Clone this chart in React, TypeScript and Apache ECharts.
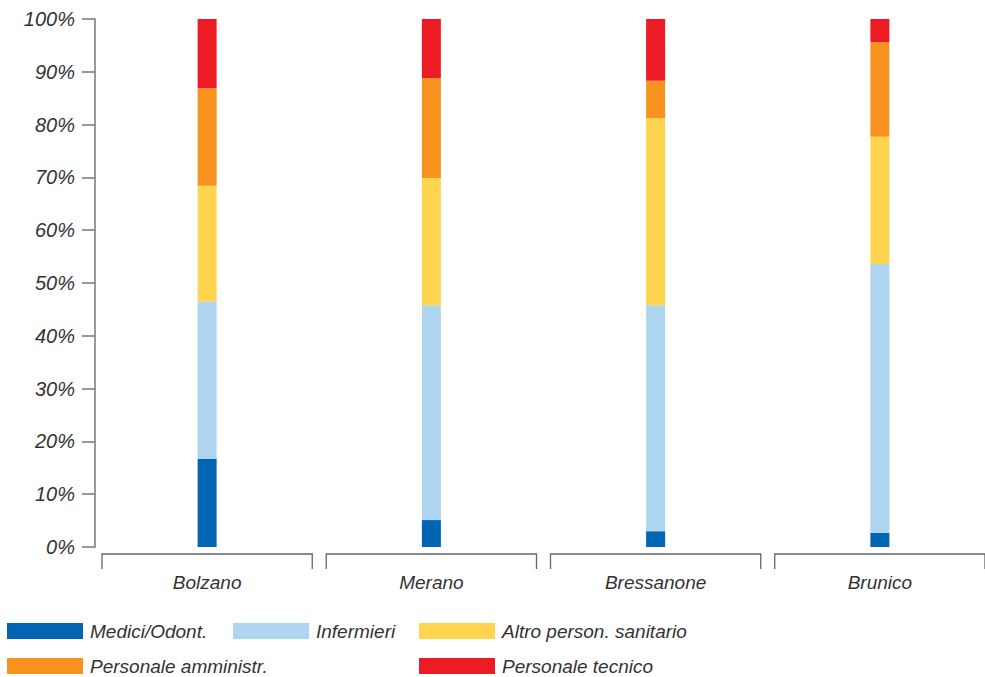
import React, { useEffect, useRef } from "react";
import * as echarts from "echarts";

const categories = ["Bolzano", "Merano", "Bressanone", "Brunico"];
const seriesNames = [
  "Medici/Odont.",
  "Infermieri",
  "Altro person. sanitario",
  "Personale amministr.",
  "Personale tecnico",
];
const medici = [16.7, 5.1, 3.0, 2.7];
const infermieri = [29.8, 40.7, 42.8, 50.9];
const altro = [21.9, 24.1, 35.4, 24.1];
const amministr = [18.5, 18.9, 7.1, 17.9];
const tecnico = [13.1, 11.2, 11.7, 4.4];
const yTicks = [0, 10, 20, 30, 40, 50, 60, 70, 80, 90, 100];

const colors = ["#0066b3", "#aed4f0", "#ffd54f", "#f7931e", "#ed1c24"];
const FONT = "'Liberation Sans Narrow', 'Liberation Sans', Arial, sans-serif";
const TEXT_COLOR = "#333333";
const AXIS_COLOR = "#777777";

export default function App() {
  const ref = useRef<HTMLDivElement>(null);

  useEffect(() => {
    if (!ref.current) return;
    const chart = echarts.init(ref.current, undefined, { renderer: "svg" });
    const values = [medici, infermieri, altro, amministr, tecnico];

    const barSeries = seriesNames.map((name, i) => ({
      name,
      type: "bar",
      stack: "total",
      barWidth: 19,
      data: values[i],
      itemStyle: { color: colors[i] },
      silent: true,
    }));

    const bracketSeries = {
      type: "custom",
      name: "brackets",
      silent: true,
      clip: false,
      data: categories.map((_, i) => [i, 0]),
      renderItem: (params: any, api: any) => {
        const c = api.coord([api.value(0), 0]);
        const w = api.size([1, 0])[0];
        const half = w / 2 - 7;
        const y = c[1] + 7;
        return {
          type: "polyline",
          shape: {
            points: [
              [c[0] - half, y + 15],
              [c[0] - half, y],
              [c[0] + half, y],
              [c[0] + half, y + 15],
            ],
          },
          style: { stroke: "#666666", fill: null, lineWidth: 1.3 },
        };
      },
    };

    const legendPos = [
      { left: 7, top: 620 },
      { left: 233, top: 620 },
      { left: 419, top: 620 },
      { left: 7, top: 655 },
      { left: 419, top: 655 },
    ];

    const legends = seriesNames.map((name, i) => ({
      data: [name],
      left: legendPos[i].left,
      top: legendPos[i].top,
      padding: 0,
      icon: "rect",
      itemWidth: 76,
      itemHeight: 16,
      selectedMode: false,
      textStyle: {
        fontFamily: FONT,
        fontStyle: "italic",
        fontSize: 19,
        color: TEXT_COLOR,
        lineHeight: 22,
        padding: [0, 0, 0, 2],
      },
    }));

    chart.setOption({
      animation: false,
      backgroundColor: "#ffffff",
      grid: { left: 95, top: 19, width: 897, height: 528, containLabel: false },
      legend: legends,
      xAxis: {
        type: "category",
        data: categories,
        axisLine: { show: false },
        axisTick: { show: false },
        axisLabel: {
          margin: 26,
          fontFamily: FONT,
          fontStyle: "italic",
          fontSize: 19,
          color: TEXT_COLOR,
        },
      },
      yAxis: {
        type: "value",
        min: yTicks[0],
        max: yTicks[yTicks.length - 1],
        interval: 10,
        axisLine: { show: true, lineStyle: { color: AXIS_COLOR, width: 1.5 } },
        axisTick: {
          show: true,
          length: 13,
          lineStyle: { color: AXIS_COLOR, width: 1.5 },
        },
        splitLine: { show: false },
        axisLabel: {
          margin: 20,
          fontFamily: FONT,
          fontStyle: "italic",
          fontSize: 20,
          color: TEXT_COLOR,
          formatter: (v: number) => `${v}%`,
        },
      },
      series: [...barSeries, bracketSeries],
    });

    return () => chart.dispose();
  }, []);

  return (
    <div
      style={{
        position: "fixed",
        left: 0,
        top: 0,
        width: 985,
        height: 677,
        overflow: "hidden",
        background: "#ffffff",
      }}
    >
      <div ref={ref} style={{ width: 1000, height: 677 }} />
    </div>
  );
}
